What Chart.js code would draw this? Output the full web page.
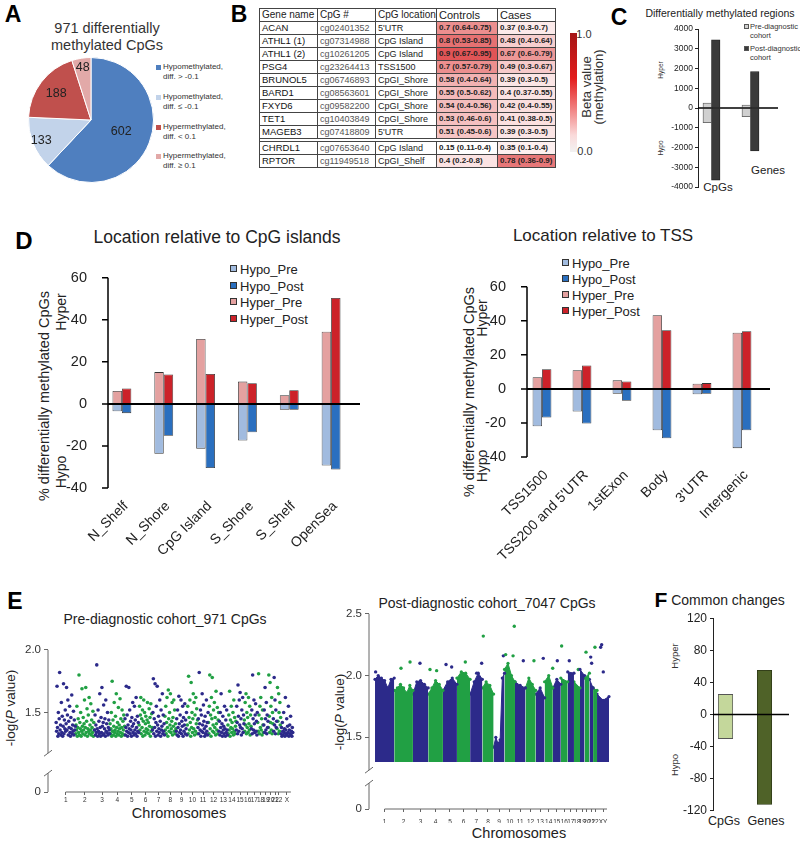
<!DOCTYPE html>
<html>
<head>
<meta charset="utf-8">
<script src="https://cdn.jsdelivr.net/npm/chart.js@4.4.0/dist/chart.umd.min.js"></script>
<style>
  body { margin: 0; background: #fff; font-family: Arial, "Liberation Sans", sans-serif; color: #222; }
  #page { position: relative; width: 800px; height: 841px; overflow: hidden; background: #fff; }
  canvas { position: absolute; }
  .lbl { position: absolute; white-space: nowrap; line-height: 1; }
  #tbl { position: absolute; left: 259px; top: 8px; border-collapse: collapse; table-layout: fixed; width: 296px; }
  #tbl td { border: 1px solid #444; height: 12px; padding: 0 0 0 2px; white-space: nowrap; overflow: hidden; line-height: 12px; }
  #tbl td.v { font-weight: bold; font-size: 8px; }
  .sq { position: absolute; width: 5px; height: 5px; }
  .lg { position: absolute; width: 7px; height: 7px; border: 1px solid #333; box-sizing: border-box; }
</style>
</head>
<body>
<div id="page"></div>
<script>
// ---- A: pie
const pieLabels = ['Hypomethylated,<br>diff. &gt; -0.1', 'Hypomethylated,<br>diff. ≤ -0.1', 'Hypermethylated,<br>diff. &lt; 0.1', 'Hypermethylated,<br>diff. ≥ 0.1'];
const pieCounts = [602, 133, 188, 48];

// ---- B: table
const genes = ['ACAN', 'ATHL1 (1)', 'ATHL1 (2)', 'PSG4', 'BRUNOL5', 'BARD1', 'FXYD6', 'TET1', 'MAGEB3', 'CHRDL1', 'RPTOR'];
const cpgIds = ['cg02401352', 'cg07314988', 'cg10261205', 'cg23264413', 'cg06746893', 'cg08563601', 'cg09582200', 'cg10403849', 'cg07418809', 'cg07653640', 'cg11949518'];
const cpgLoc = ['5\'UTR', 'CpG Island', 'CpG Island', 'TSS1500', 'CpGI_Shore', 'CpGI_Shore', 'CpGI_Shore', 'CpGI_Shore', '5\'UTR', 'CpG Island', 'CpGI_Shelf'];
const ctrlMed = [0.7, 0.8, 0.9, 0.7, 0.58, 0.55, 0.54, 0.53, 0.51, 0.15, 0.4];
const ctrlRange = ['0.64-0.75', '0.53-0.85', '0.67-0.95', '0.57-0.79', '0.4-0.64', '0.5-0.62', '0.4-0.56', '0.46-0.6', '0.45-0.6', '0.11-0.4', '0.2-0.8'];
const caseMed = [0.37, 0.48, 0.67, 0.49, 0.39, 0.4, 0.42, 0.41, 0.39, 0.35, 0.78];
const caseRange = ['0.3-0.7', '0.4-0.64', '0.6-0.79', '0.3-0.67', '0.3-0.5', '0.37-0.55', '0.4-0.55', '0.38-0.5', '0.3-0.5', '0.1-0.4', '0.36-0.9'];

// ---- C: differentially methylated regions
const drmCats = ['CpGs', 'Genes'];
const drmPreHyper = [250, 150];
const drmPreHypo = [-740, -440];
const drmPostHyper = [3450, 1840];
const drmPostHypo = [-3650, -2170];

// ---- D: location
const locCats = ['N_Shelf', 'N_Shore', 'CpG Island', 'S_Shore', 'S_Shelf', 'OpenSea'];
const locHypoPre = [-3.5, -23.7, -21.3, -17.4, -2.8, -29.3];
const locHypoPost = [-4.4, -15.2, -30.5, -13.5, -2.8, -31.2];
const locHyperPre = [6.1, 15.1, 30.9, 10.6, 4.1, 34.3];
const locHyperPost = [7.3, 14.0, 14.2, 9.8, 6.5, 50.4];

const tssCats = ['TSS1500', 'TSS200 and 5\'UTR', '1stExon', 'Body', '3\'UTR', 'Intergenic'];
const tssHypoPre = [-22, -13.3, -2.9, -24.3, -3.2, -34.8];
const tssHypoPost = [-16.8, -20.3, -7, -29, -2.9, -24.3];
const tssHyperPre = [6.9, 10.9, 5, 43.2, 3, 33];
const tssHyperPost = [11.5, 13.8, 4.4, 34.4, 3.4, 33.8];

// ---- E: manhattan plots
const chrLenMb = [249, 243, 198, 191, 181, 171, 159, 146, 141, 136, 135, 134, 115, 107, 103, 90, 81, 78, 59, 63, 48, 51, 155];
const preChrLabels = ['1','2','3','4','5','6','7','8','9','10','11','12','13','14','15','16','17','18','19','20','21','22','X'];
const postChrLabels = ['1','2','3','4','5','6','7','8','9','10','11','12','13','14','15','16','17','18','19','20','21','22','XY'];

// pre-diagnostic: -log(P) of the plotted CpGs, per chromosome
const preLogP = [
  [1.42,1.35,1.71,1.38,1.31,1.50,1.33,1.45,1.82,1.36,1.40,1.32,1.58,1.34,1.47,1.31,1.39,1.73,1.33,1.44,1.37,1.52,1.35,1.41,1.70,1.36,1.48,1.60,1.32,1.43,1.38,1.55,1.34,1.31,1.46,1.37,1.64,1.33,1.40,1.35,1.51,1.32,1.44,1.36,1.39],
  [1.33,1.40,1.36,1.55,1.31,1.38,1.45,1.34,1.80,1.32,1.42,1.37,1.50,1.31,1.35,1.69,1.39,1.33,1.46,1.36,1.41,1.60,1.32,1.38,1.70,1.34,1.43,1.53,1.31,1.37,1.48,1.35,1.62,1.33,1.40,1.36,1.57,1.32,1.44,1.38,1.34,1.51,1.31,1.42,1.36],
  [1.36,1.48,1.32,1.40,1.34,1.88,1.37,1.31,1.52,1.35,1.43,1.33,1.65,1.38,1.31,1.46,1.34,1.70,1.39,1.32,1.42,1.56,1.33,1.37,1.45,1.31,1.60,1.35,1.41,1.34,1.50,1.32,1.38,1.44,1.36,1.33],
  [1.41,1.33,1.37,1.50,1.31,1.75,1.35,1.44,1.32,1.39,1.58,1.34,1.36,1.47,1.31,1.65,1.38,1.33,1.42,1.35,1.54,1.32,1.40,1.37,1.61,1.34,1.45,1.31,1.38,1.52,1.33,1.43,1.36,1.48,1.32,1.39],
  [1.45,1.32,1.38,1.71,1.35,1.48,1.31,1.40,1.34,1.70,1.37,1.52,1.33,1.43,1.36,1.31,1.46,1.39,1.58,1.34,1.41,1.32,1.55,1.36,1.44,1.33,1.62,1.38,1.31,1.47,1.35,1.42,1.34],
  [1.40,1.55,1.36,1.48,1.62,1.33,1.45,1.38,1.52,1.31,1.43,1.60,1.35,1.50,1.32,1.41,1.47,1.37,1.34,1.44,1.58,1.36,1.42,1.33,1.53,1.39,1.46,1.31,1.57,1.35,1.49,1.38],
  [1.36,1.50,1.77,1.33,1.45,1.38,1.73,1.31,1.42,1.55,1.35,1.71,1.40,1.32,1.47,1.37,1.34,1.60,1.43,1.31,1.52,1.36,1.39,1.65,1.33,1.48,1.35,1.41,1.32],
  [1.47,1.36,1.55,1.33,1.42,1.62,1.38,1.31,1.68,1.45,1.35,1.50,1.40,1.65,1.34,1.37,1.43,1.58,1.32,1.46,1.39,1.60,1.35,1.52,1.33,1.41,1.37],
  [1.35,1.45,1.32,1.52,1.38,1.31,1.63,1.41,1.34,1.48,1.36,1.60,1.33,1.43,1.39,1.55,1.31,1.46,1.35,1.40,1.57,1.33,1.44,1.37,1.50,1.32],
  [1.40,1.55,1.33,1.79,1.46,1.36,1.60,1.42,1.31,1.74,1.38,1.50,1.34,1.45,1.65,1.37,1.58,1.32,1.48,1.35,1.62,1.41,1.53,1.33,1.44],
  [1.38,1.45,1.33,1.82,1.41,1.36,1.52,1.31,1.48,1.35,1.65,1.40,1.34,1.56,1.43,1.37,1.31,1.47,1.33,1.39,1.60,1.35,1.42,1.32,1.50],
  [1.42,1.33,1.55,1.80,1.37,1.48,1.31,1.62,1.45,1.78,1.35,1.40,1.52,1.34,1.58,1.38,1.46,1.32,1.67,1.41,1.36,1.54,1.33,1.44,1.50],
  [1.35,1.43,1.32,1.50,1.38,1.65,1.34,1.41,1.31,1.47,1.36,1.39,1.33,1.55,1.37,1.31,1.44,1.34,1.52,1.36,1.32],
  [1.40,1.33,1.48,1.36,1.67,1.31,1.44,1.38,1.55,1.34,1.42,1.37,1.50,1.32,1.60,1.35,1.46,1.33,1.39,1.43],
  [1.36,1.55,1.42,1.33,1.72,1.47,1.35,1.60,1.40,1.66,1.38,1.45,1.32,1.52,1.37,1.62,1.34,1.48,1.41],
  [1.44,1.35,1.58,1.40,1.65,1.33,1.50,1.38,1.46,1.34,1.62,1.41,1.36,1.55,1.32,1.48,1.39],
  [1.37,1.52,1.33,1.80,1.45,1.36,1.60,1.41,1.34,1.48,1.57,1.35,1.43,1.32,1.50],
  [1.42,1.35,1.81,1.48,1.33,1.55,1.38,1.62,1.36,1.45,1.32,1.52,1.40,1.34],
  [1.40,1.52,1.34,1.70,1.45,1.36,1.58,1.33,1.48,1.38,1.43],
  [1.38,1.80,1.47,1.34,1.74,1.42,1.55,1.36,1.62,1.33,1.50,1.41],
  [1.45,1.35,1.78,1.40,1.60,1.33,1.52,1.38,1.43],
  [1.37,1.70,1.43,1.33,1.65,1.50,1.35,1.58,1.40,1.46],
  [1.33,1.38,1.31,1.42,1.35,1.32,1.50,1.34,1.37,1.31,1.62,1.36,1.33,1.45,1.32,1.39,1.34,1.55,1.31,1.36,1.40,1.33,1.47,1.32,1.35,1.31,1.38,1.34]
];

// post-diagnostic: upper edge of the dense point columns per chromosome, and isolated high points [Mb, -logP]
const postTops = [
  [1.97,2.0,1.98,1.96,1.9,1.97,1.98],
  [1.88,1.9,1.93,1.9,1.86,1.92,1.88],
  [1.85,1.95,1.96,1.93,1.9],
  [1.85,1.9,1.96,1.93,1.88],
  [1.88,1.95,1.98,1.93],
  [1.98,2.03,2.02,1.97],
  [1.85,1.95,2.02,1.97],
  [1.9,1.95,1.92,1.85],
  [1.42,1.5,1.45,1.48,1.98,2.02],
  [2.05,2.1,2.0,1.95],
  [1.95,1.92,1.9],
  [1.9,1.98,1.93,1.88],
  [1.85,1.9,1.82],
  [1.95,2.0,1.9],
  [1.9,1.97,1.93],
  [1.98,1.95],
  [2.03,2.02],
  [1.95,1.9],
  [2.05,2.0],
  [1.98,2.02],
  [1.97,1.9],
  [1.9,1.88],
  [1.85,1.8,1.83]
];
const postHigh = [
  [1404,2.32],[1806,2.40],[2420,2.24],[2736,2.19],[2852,2.23],[2926,2.23],[2939,2.25],
  [1383,2.10],[1664,2.16],[1694,2.17],[1790,2.16],[1923,2.12],[2061,2.12],[2182,2.14],
  [921,2.09],[1171,2.11],[583,2.10],[454,2.11],[337,2.06],[2364,2.12],[2519,2.12],
  [2636,2.05],[2797,2.15],[2809,2.10],[2960,2.03],[8,2.03],[713,2.05],[799,2.04],
  [994,2.07],[1318,2.02],[2304,2.06]
];

// ---- F: common changes
const comCats = ['CpGs', 'Genes'];
const comHyper = [25, 55];
const comHypo = [-30, -112];

// ================= drawing =================
Chart.defaults.font.family = 'Arial, "Liberation Sans", sans-serif';
Chart.defaults.color = '#222';
const page = document.getElementById('page');

function label(text, x, y, size, o = {}) {
  const d = document.createElement('div');
  d.className = 'lbl';
  d.innerHTML = text;
  d.style.left = x + 'px';
  d.style.top = y + 'px';
  d.style.fontSize = size + 'px';
  if (o.bold) d.style.fontWeight = 'bold';
  if (o.color) d.style.color = o.color;
  if (o.lh) d.style.lineHeight = o.lh;
  const ax = o.left ? '0' : '-50%';
  d.style.transform = 'translate(' + ax + ',-50%)' + (o.rot ? ' rotate(-90deg)' : '');
  page.appendChild(d);
  return d;
}

function makeChart(x, y, w, h, cfg) {
  const c = document.createElement('canvas');
  c.width = w; c.height = h;
  c.style.left = x + 'px'; c.style.top = y + 'px';
  c.style.width = w + 'px'; c.style.height = h + 'px';
  page.appendChild(c);
  cfg.options = Object.assign({ responsive: false, animation: false, devicePixelRatio: 1 }, cfg.options);
  return new Chart(c, cfg);
}

const zeroLine = {
  id: 'zeroLine',
  afterDatasetsDraw(chart, args, opts) {
    const { ctx, chartArea, scales } = chart;
    const y = scales.y.getPixelForValue(0);
    ctx.save();
    ctx.strokeStyle = '#000';
    ctx.lineWidth = opts.width || 1.5;
    ctx.beginPath();
    ctx.moveTo(chartArea.left, y);
    ctx.lineTo(chartArea.right, y);
    ctx.stroke();
    ctx.restore();
  }
};

// Excel-style axis for panel D: the value axis sits a little inside the first category gap
const axisAndZero = {
  id: 'axisAndZero',
  afterDatasetsDraw(chart, args, o) {
    const { ctx, chartArea: a, scales: { y } } = chart;
    const xA = a.left + o.shift;
    ctx.save();
    ctx.strokeStyle = '#000';
    ctx.lineWidth = 1.5;
    ctx.beginPath();
    ctx.moveTo(xA, a.top); ctx.lineTo(xA, a.bottom);
    y.ticks.forEach(t => {
      const py = y.getPixelForValue(t.value);
      ctx.moveTo(xA - o.tick, py); ctx.lineTo(xA, py);
    });
    ctx.stroke();
    ctx.lineWidth = 2;
    ctx.beginPath();
    const z = y.getPixelForValue(0);
    ctx.moveTo(xA, z); ctx.lineTo(a.right + o.ext, z);
    ctx.stroke();
    ctx.restore();
  }
};

const pieNums = {
  id: 'pieNums',
  afterDatasetsDraw(chart, args, opts) {
    const ctx = chart.ctx;
    const meta = chart.getDatasetMeta(0);
    ctx.save();
    ctx.font = opts.font;
    ctx.fillStyle = '#222';
    ctx.textAlign = 'center';
    ctx.textBaseline = 'middle';
    meta.data.forEach((arc, i) => {
      const mid = (arc.startAngle + arc.endAngle) / 2;
      const r = arc.outerRadius * opts.radius[i];
      ctx.fillText(String(chart.data.datasets[0].data[i]), arc.x + Math.cos(mid) * r, arc.y + Math.sin(mid) * r);
    });
    ctx.restore();
  }
};

const brokenAxis = {
  id: 'brokenAxis',
  afterDraw(chart, args, o) {
    const { ctx, chartArea: a, scales: { x, y } } = chart;
    const x0 = a.left;
    const g1 = y.getPixelForValue(o.gapTop), g2 = y.getPixelForValue(o.gapBottom);
    ctx.save();
    ctx.strokeStyle = o.color;
    ctx.lineWidth = 1;
    ctx.beginPath();
    ctx.moveTo(x0, a.top); ctx.lineTo(x0, g1);
    ctx.moveTo(x0, g2); ctx.lineTo(x0, a.bottom);
    ctx.moveTo(x0 - 4, g1 + 3); ctx.lineTo(x0 + 4, g1 - 3);
    ctx.moveTo(x0 - 4, g2 + 3); ctx.lineTo(x0 + 4, g2 - 3);
    const t = x.ticks;
    ctx.moveTo(x.getPixelForValue(t[0].value), a.bottom);
    ctx.lineTo(x.getPixelForValue(t[t.length - 1].value) + 4, a.bottom);
    ctx.stroke();
    ctx.restore();
  }
};

// ---------- panel letters
label('A', 13, 14, 23, { bold: true, color: '#000' });
label('B', 239, 14, 23, { bold: true, color: '#000' });
label('C', 619, 17, 23, { bold: true, color: '#000' });
label('D', 24, 241, 24, { bold: true, color: '#000' });
label('E', 15, 601, 23, { bold: true, color: '#000' });
label('F', 661, 599, 21, { bold: true, color: '#000' });

// ---------- A
label('971 differentially', 107, 28, 14.5, { color: '#333' });
label('methylated CpGs', 107, 45, 14.5, { color: '#333' });
const pieColors = ['#4f7fbf', '#c2d3ea', '#c0504d', '#e2a9a8'];
makeChart(28, 57, 126, 126, {
  type: 'pie',
  data: { labels: pieLabels, datasets: [{ data: pieCounts, backgroundColor: pieColors, borderColor: '#fff', borderWidth: 1 }] },
  options: {
    layout: { padding: 0 },
    plugins: { legend: { display: false }, tooltip: { enabled: false }, pieNums: { font: '12.5px Arial, "Liberation Sans"', radius: [0.52, 0.86, 0.7, 0.85] } }
  },
  plugins: [pieNums]
});
pieLabels.forEach((t, i) => {
  const yy = [68, 98, 128, 157][i];
  const s = document.createElement('div');
  s.className = 'sq';
  s.style.left = '156px'; s.style.top = (yy - 3) + 'px';
  s.style.background = pieColors[i];
  page.appendChild(s);
  label(t, 163, yy + 4, 8, { left: true, lh: '10px', color: '#333' });
});

// ---------- B
function heat(v) {
  const st = [[0, [255, 255, 255]], [0.3, [255, 252, 252]], [0.45, [249, 214, 214]], [0.6, [241, 172, 172]], [0.75, [233, 128, 128]], [0.9, [224, 84, 86]], [1, [200, 30, 30]]];
  for (let i = 1; i < st.length; i++) {
    if (v <= st[i][0]) {
      const f = (v - st[i - 1][0]) / (st[i][0] - st[i - 1][0]);
      const c = st[i - 1][1].map((a, k) => Math.round(a + (st[i][1][k] - a) * f));
      return 'rgb(' + c.join(',') + ')';
    }
  }
  return 'rgb(200,30,30)';
}
let html = '<colgroup><col style="width:58px"><col style="width:58px"><col style="width:61px"><col style="width:61px"><col style="width:58px"></colgroup>';
html += '<tr><td style="font-size:10px">Gene name</td><td style="font-size:10px">CpG #</td><td style="font-size:10px">CpG location</td><td style="font-size:11px">Controls</td><td style="font-size:11px">Cases</td></tr>';
genes.forEach((g, i) => {
  if (i === 9) html += '<tr><td colspan="5" style="height:2px;padding:0"></td></tr>';
  html += '<tr><td style="font-size:9.5px;color:#111">' + g + '</td><td style="font-size:9px;color:#555">' + cpgIds[i] +
    '</td><td style="font-size:9px">' + cpgLoc[i] + '</td><td class="v" style="background:' + heat(ctrlMed[i]) + '">' + ctrlMed[i] + ' (' + ctrlRange[i] +
    ')</td><td class="v" style="background:' + heat(caseMed[i]) + '">' + caseMed[i] + ' (' + caseRange[i] + ')</td></tr>';
});
const tbl = document.createElement('table');
tbl.id = 'tbl';
tbl.innerHTML = html;
page.appendChild(tbl);
const bar = document.createElement('div');
bar.style.cssText = 'position:absolute;left:570px;top:33px;width:7px;height:119px;background:linear-gradient(to bottom,#a51616 0%,#e31c1c 38%,#f07a7a 62%,#fadada 86%,#f2f2f2 100%)';
page.appendChild(bar);
label('1.0', 584, 34, 11, { color: '#333' });
label('0.0', 585, 151, 11, { color: '#333' });
label('Beta value', 586, 87, 13, { rot: true, color: '#333' });
label('(methylation)', 598, 87, 13, { rot: true, color: '#333' });

// ---------- C
label('Differentially methylated regions', 720, 13, 10.5, { color: '#222' });
label('Hyper', 661, 70, 6.5, { rot: true, color: '#333' });
label('Hypo', 661, 148, 6.5, { rot: true, color: '#333' });
label('CpGs', 718, 188, 11.5, { color: '#222' });
label('Genes', 768, 171, 11.5, { color: '#222' });
[['#d0d0d0', 'Pre-diagnostic<br>cohort', 27], ['#3a3a3a', 'Post-diagnostic<br>cohort', 49]].forEach(([c, t, yy]) => {
  const s = document.createElement('div');
  s.className = 'sq';
  s.style.cssText += ';left:744px;top:' + (yy - 3) + 'px;width:5px;height:5px;box-sizing:border-box;border:0.8px solid #555;background:' + c;
  page.appendChild(s);
  label(t, 750, yy + 4, 7.5, { left: true, lh: '9px', color: '#333' });
});
const grayPre = { backgroundColor: '#d0d0d0', borderColor: '#555', borderWidth: 0.8, barThickness: 8.5 };
const grayPost = { backgroundColor: '#3a3a3a', borderColor: '#222', borderWidth: 0.8, barThickness: 8.5 };
const xy = (vals) => vals.map((v, i) => ({ x: i + 1, y: v }));
makeChart(660, 20, 125, 180, {
  type: 'bar',
  data: {
    datasets: [
      Object.assign({ label: 'Pre-diagnostic cohort', stack: 'pre', data: xy(drmPreHyper) }, grayPre),
      Object.assign({ label: 'Pre-diagnostic cohort', stack: 'pre', data: xy(drmPreHypo) }, grayPre),
      Object.assign({ label: 'Post-diagnostic cohort', stack: 'post', data: xy(drmPostHyper) }, grayPost),
      Object.assign({ label: 'Post-diagnostic cohort', stack: 'post', data: xy(drmPostHypo) }, grayPost)
    ]
  },
  options: {
    layout: { padding: { left: 0, right: 7, top: 9, bottom: 13 } },
    scales: {
      x: { type: 'linear', min: 0.654, max: 2.705, offset: false, display: false },
      y: {
        stacked: true, min: -4000, max: 4000,
        ticks: { stepSize: 1000, font: { size: 8.5 }, padding: 2, color: '#222', callback: v => String(v) },
        grid: { drawOnChartArea: false, tickLength: 3, tickColor: '#222' },
        border: { color: '#222', width: 1 },
        afterFit: s => { s.width = 38; }
      }
    },
    plugins: { legend: { display: false }, tooltip: { enabled: false }, zeroLine: { width: 1.5 } }
  },
  plugins: [zeroLine]
});

// ---------- D
function dSets(hypoPre, hypoPost, hyperPre, hyperPost) {
  return [
    { label: 'Hypo_Pre', stack: 'pre', data: hypoPre, backgroundColor: '#a1bbdf' },
    { label: 'Hypo_Post', stack: 'post', data: hypoPost, backgroundColor: '#2a6fbf' },
    { label: 'Hyper_Pre', stack: 'pre', data: hyperPre, backgroundColor: '#e4a1a0' },
    { label: 'Hyper_Post', stack: 'post', data: hyperPost, backgroundColor: '#cc2229' }
  ].map(d => Object.assign(d, { borderColor: '#333', borderWidth: 0.8 }));
}
function dOptions(pad, yWidth, xHeight, catPct, tickPad, shift) {
  return {
    layout: { padding: pad },
    datasets: { bar: { categoryPercentage: catPct, barPercentage: 1 } },
    scales: {
      x: {
        grid: { display: false }, border: { display: false },
        ticks: { font: { size: 14 }, minRotation: 45, maxRotation: 45, autoSkip: false, padding: 2, labelOffset: 4, color: '#222' },
        afterFit: s => { s.height = xHeight; }
      },
      y: {
        stacked: true, min: -40, max: 60,
        ticks: { stepSize: 20, font: { size: 14.5 }, padding: tickPad, color: '#222' },
        grid: { display: false },
        border: { display: false },
        afterFit: s => { s.width = yWidth; }
      }
    },
    plugins: { legend: { display: false }, tooltip: { enabled: false }, axisAndZero: { shift: shift, tick: 6, ext: 8 } }
  };
}
const dColors = ['#a1bbdf', '#2a6fbf', '#e4a1a0', '#cc2229'];
const dNames = ['Hypo_Pre', 'Hypo_Post', 'Hyper_Pre', 'Hyper_Post'];
function dLegend(x, ys) {
  dNames.forEach((n, i) => {
    const s = document.createElement('div');
    s.className = 'lg';
    s.style.left = x + 'px'; s.style.top = (ys[i] - 3) + 'px';
    s.style.background = dColors[i];
    page.appendChild(s);
    label(n, x + 10, ys[i] + 1, 13, { left: true, color: '#222' });
  });
}

label('Location relative to CpG islands', 217, 238, 17.5, { color: '#222' });
label('% differentially methylated CpGs', 44, 396, 14.5, { rot: true, color: '#222' });
label('Hyper', 61, 312, 14, { rot: true, color: '#222' });
label('Hypo', 61, 472, 14, { rot: true, color: '#222' });
dLegend(230, [268, 285, 301, 318]);
makeChart(60, 263, 305, 316, {
  type: 'bar',
  data: { labels: locCats, datasets: dSets(locHypoPre, locHypoPost, locHyperPre, locHyperPost) },
  options: dOptions({ left: 0, right: 13, top: 4, bottom: 4 }, 41, 87, 0.45, 6, 7),
  plugins: [axisAndZero]
});

label('Location relative to TSS', 603, 235, 17, { color: '#222' });
label('% differentially methylated CpGs', 469, 392, 14.5, { rot: true, color: '#222' });
label('Hyper', 482, 318, 14, { rot: true, color: '#222' });
label('Hypo', 482, 466, 14, { rot: true, color: '#222' });
dLegend(562, [262, 278, 294, 310]);
makeChart(480, 270, 295, 295, {
  type: 'bar',
  data: { labels: tssCats, datasets: dSets(tssHypoPre, tssHypoPost, tssHyperPre, tssHyperPost) },
  options: dOptions({ left: 0, right: 13, top: 3, bottom: 4 }, 42, 104, 0.47, 8, 5),
  plugins: [axisAndZero]
});

// ---------- E
const chrStart = [];
chrLenMb.reduce((s, l) => { chrStart.push(s); return s + l; }, 0);
const chrMid = chrStart.map((s, i) => s + chrLenMb[i] / 2);
const BLUE = '#2c2a8a', GREEN = '#21a044';
function chrOf(mb) {
  let c = 0;
  while (c < chrStart.length - 1 && mb >= chrStart[c + 1]) c++;
  return c;
}
function prePoints(parity) {
  const pts = [];
  preLogP.forEach((ys, c) => {
    if (c % 2 !== parity) return;
    ys.forEach((v, i) => pts.push({ x: chrStart[c] + (i + 0.5) / ys.length * chrLenMb[c], y: v }));
  });
  return pts;
}
// one filled column per chromosome
const postColumnSets = postTops.map((tops, c) => {
  const col = c % 2 ? GREEN : BLUE;
  return {
    type: 'line', showLine: true, tension: 0,
    data: tops.map((v, i) => ({ x: chrStart[c] + i / (tops.length - 1) * chrLenMb[c], y: v })),
    fill: { value: 1.3 }, backgroundColor: col, borderColor: col, borderWidth: 1,
    pointRadius: 1.6, pointBackgroundColor: col, pointBorderWidth: 0
  };
});
function manhattanOptions(pad, yWidth, xMin, xMax, yMin, yMax, yTicks, gap, labels, xPad) {
  return {
    layout: { padding: pad },
    scales: {
      x: {
        type: 'linear', min: xMin, max: xMax,
        afterBuildTicks: s => { s.ticks = chrMid.map(v => ({ value: v })); },
        ticks: { autoSkip: false, maxRotation: 0, minRotation: 0, font: { size: 6.5 }, color: '#333', padding: xPad, callback: (v, i) => labels[i] },
        grid: { drawOnChartArea: false, tickLength: 3, tickColor: '#666' },
        border: { display: false },
        afterFit: s => { s.height = 14; }
      },
      y: {
        min: yMin, max: yMax,
        afterBuildTicks: s => { s.ticks = yTicks.map(v => ({ value: v })); },
        ticks: { font: { size: 11.5 }, color: '#333', padding: 3, callback: v => (v < 1 ? '0' : v.toFixed(1)) },
        grid: { drawOnChartArea: false, tickLength: 4, tickColor: '#666' },
        border: { display: false },
        afterFit: s => { s.width = yWidth; }
      }
    },
    plugins: { legend: { display: false }, tooltip: { enabled: false }, brokenAxis: { gapTop: gap[0], gapBottom: gap[1], color: '#666' } }
  };
}

label('Pre-diagnostic cohort_971 CpGs', 165, 619, 14, { color: '#222' });
label('-log(<i>P</i> value)', 11, 708, 13.5, { rot: true, color: '#222' });
label('Chromosomes', 179, 813, 14.5, { color: '#222' });
makeChart(0, 640, 300, 180, {
  type: 'scatter',
  data: {
    datasets: [
      { data: prePoints(0), backgroundColor: BLUE, pointRadius: 1.8, borderWidth: 0 },
      { data: prePoints(1), backgroundColor: GREEN, pointRadius: 1.8, borderWidth: 0 }
    ]
  },
  options: manhattanOptions({ left: 0, right: 5, top: 9, bottom: 14 }, 48, -102, 3060, 0.865, 2.0, [0.865, 1.5, 2.0], [1.175, 1.016], preChrLabels, 1),
  plugins: [brokenAxis]
});

label('Post-diagnostic cohort_7047 CpGs', 487, 603, 14, { color: '#222' });
label('-log(<i>P</i> value)', 340, 712, 13.5, { rot: true, color: '#222' });
label('Chromosomes', 519, 833, 14.5, { color: '#222' });
makeChart(322, 604, 295, 225, {
  type: 'scatter',
  data: {
    datasets: postColumnSets.concat([{
      data: postHigh.map(p => ({ x: p[0], y: p[1] })),
      backgroundColor: postHigh.map(p => (chrOf(p[0]) % 2 ? GREEN : BLUE)),
      pointRadius: 1.7, borderWidth: 0
    }])
  },
  options: manhattanOptions({ left: 0, right: 5, top: 9, bottom: 6 }, 47, -78, 3073, 0.919, 2.5, [0.919, 1.5, 2.0, 2.5], [1.234, 1.129], postChrLabels, 6),
  plugins: [brokenAxis]
});

// ---------- F
label('Common changes', 728, 600, 14, { color: '#222' });
label('Hyper', 675, 656, 9.5, { rot: true, color: '#333' });
label('Hypo', 675, 765, 9.5, { rot: true, color: '#333' });
label('CpGs', 724, 821, 12.5, { color: '#222' });
label('Genes', 766, 821, 12.5, { color: '#222' });
const fFill = ['#c4d79b', '#4f6228'];
const fLine = ['#555', '#2a3515'];
makeChart(680, 608, 115, 213, {
  type: 'bar',
  data: {
    datasets: [
      { stack: 'c', data: xy(comHyper), backgroundColor: fFill, borderColor: fLine, borderWidth: 0.8, barThickness: 14.5 },
      { stack: 'c', data: xy(comHypo), backgroundColor: fFill, borderColor: fLine, borderWidth: 0.8, barThickness: 14.5 }
    ]
  },
  options: {
    layout: { padding: { left: 0, right: 6, top: 10, bottom: 4 } },
    scales: {
      x: { type: 'linear', min: 0.679, max: 2.628, offset: false, display: false },
      y: {
        stacked: true, min: -120, max: 120,
        ticks: { stepSize: 40, font: { size: 12 }, padding: 3, color: '#222' },
        grid: { drawOnChartArea: false, tickLength: 3, tickColor: '#222' },
        border: { color: '#222', width: 1 },
        afterFit: s => { s.width = 33; }
      }
    },
    plugins: { legend: { display: false }, tooltip: { enabled: false }, zeroLine: { width: 1.5 } }
  },
  plugins: [zeroLine]
});
</script>
</body>
</html>
